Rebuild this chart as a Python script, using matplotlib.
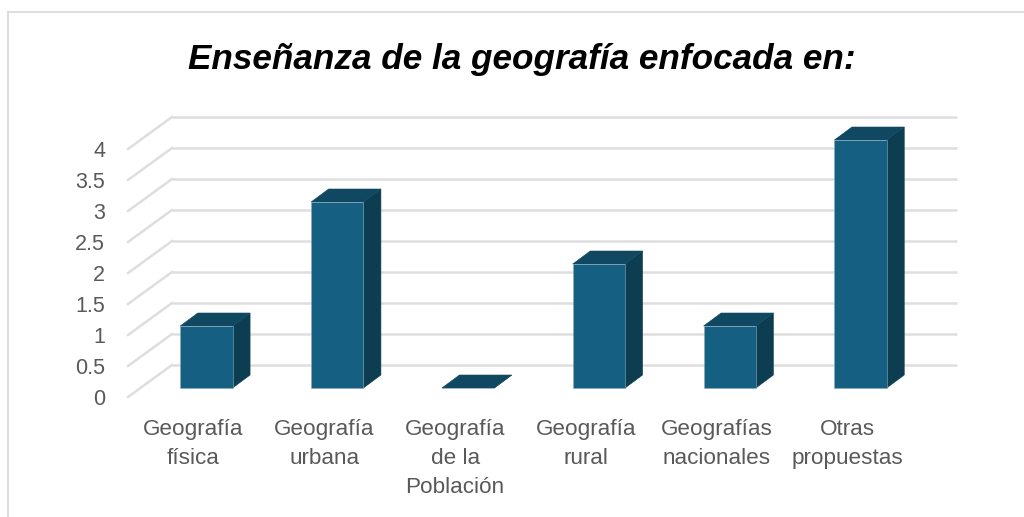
import matplotlib
matplotlib.use("Agg")
import matplotlib.pyplot as plt
from matplotlib.transforms import Affine2D, IdentityTransform

categorias = ['Geografía\nfísica', 'Geografía\nurbana', 'Geografía\nde la\nPoblación',
              'Geografía\nrural', 'Geografías\nnacionales', 'Otras\npropuestas']
valores = [1, 3, 0, 2, 1, 4]
ticks_y = [0, 0.5, 1, 1.5, 2, 2.5, 3, 3.5, 4]
etiquetas_y = ['0', '0.5', '1', '1.5', '2', '2.5', '3', '3.5', '4']
titulo = 'Enseñanza de la geografía enfocada en:'

W, H = 1024, 517
GRIS = '#dedede'
TEXTO = '#595959'
FRENTE, TECHO, LADO = '#156082', '#104862', '#0d3d50'
BORDE = '#8aa9b8'

# desplazamientos de la perspectiva, en pixeles
PARED = (44, 32)
BARRA = (13, 9)
FONDO = (17.5, 13)
ANCHO = 0.4

plt.rcParams['font.family'] = ['Liberation Sans', 'DejaVu Sans']

fig = plt.figure(figsize=(W / 100, H / 100), dpi=100)
ax = fig.add_axes([128 / W, (H - 397) / H, 785 / W, 248 / H])
ax.set_xlim(-0.5, 5.5)
ax.set_ylim(0, 4)
for s in ax.spines.values():
    s.set_visible(False)
ax.patch.set_visible(False)


def pt(x, y, dx=0, dy=0):
    px, py = ax.transData.transform((x, y))
    return (px + dx, py + dy)


def poligono(puntos, color):
    ax.fill([p[0] for p in puntos], [p[1] for p in puntos], facecolor=color, edgecolor=color,
            linewidth=0.4, transform=IdentityTransform(), clip_on=False, zorder=3)


# pared del fondo y diagonales del piso
pared = ax.transData + Affine2D().translate(*PARED)
ax.hlines(ticks_y, -0.5, 5.5, color=GRIS, linewidth=1.8, transform=pared, clip_on=False, zorder=1)
for t in ticks_y:
    a = pt(-0.5, t)
    b = pt(-0.5, t, *PARED)
    ax.plot([a[0], b[0]], [a[1], b[1]], color=GRIS, linewidth=1.8,
            transform=IdentityTransform(), clip_on=False, zorder=1)

# barras
frente = ax.transData + Affine2D().translate(*BARRA)
xs = list(range(len(valores)))
ax.bar(xs, valores, width=ANCHO, color=FRENTE, edgecolor=BORDE, linewidth=0.4,
       transform=frente, clip_on=False, zorder=4)
dx1, dy1 = BARRA
dx2, dy2 = BARRA[0] + FONDO[0], BARRA[1] + FONDO[1]
for x, v in zip(xs, valores):
    i, d = x - ANCHO / 2, x + ANCHO / 2
    poligono([pt(d, 0, dx1, dy1), pt(d, v, dx1, dy1), pt(d, v, dx2, dy2), pt(d, 0, dx2, dy2)], LADO)
    poligono([pt(i, v, dx1, dy1), pt(d, v, dx1, dy1), pt(d, v, dx2, dy2), pt(i, v, dx2, dy2)], TECHO)

ax.set_xlim(-0.5, 5.5)
ax.set_ylim(0, 4)
ax.set_yticks(ticks_y, etiquetas_y, fontsize=15.5, color=TEXTO)
ax.set_xticks(xs, categorias, fontsize=16.2, color=TEXTO, linespacing=1.48)
ax.tick_params(axis='both', length=0)
ax.tick_params(axis='y', pad=16.5)
ax.tick_params(axis='x', pad=16)

fig.text(522 / W, (H - 59) / H, titulo, ha='center', va='center', fontsize=25.3,
         fontweight='bold', fontstyle='italic', color='black')

# marco del grafico, abierto por la derecha y abajo
fig.add_artist(plt.Line2D([8 / W, 8 / W], [0, (H - 12) / H], color=GRIS, linewidth=1.5))
fig.add_artist(plt.Line2D([8 / W, 1], [(H - 12) / H, (H - 12) / H], color=GRIS, linewidth=1.5))

fig.savefig('out.png', dpi=100)
